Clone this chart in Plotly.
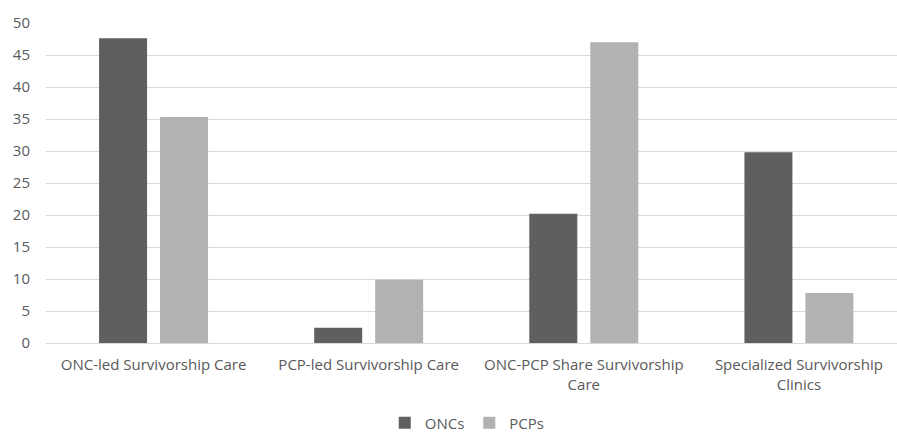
import plotly.graph_objects as go

categories = [
    "ONC-led Survivorship Care",
    "PCP-led Survivorship Care",
    "ONC-PCP Share Survivorship<br>Care",
    "Specialized Survivorship<br>Clinics",
]
oncs = [47.6, 2.4, 20.2, 29.8]
pcps = [35.3, 9.9, 47.0, 7.8]
y_ticks = list(range(0, 51, 5))

FONT = "Open Sans"
TEXT = "#595959"

fig = go.Figure()
fig.add_trace(go.Bar(name="ONCs", x=categories, y=oncs,
                     marker=dict(color="#5f5f5f", line=dict(width=0))))
fig.add_trace(go.Bar(name="PCPs", x=categories, y=pcps,
                     marker=dict(color="#b2b2b2", line=dict(width=0))))

fig.update_layout(
    width=897, height=434,
    margin=dict(l=46, r=0, t=23, b=91, autoexpand=False),
    paper_bgcolor="white", plot_bgcolor="white",
    barmode="group", bargap=0.433, bargroupgap=0.213,
    font=dict(family=FONT, size=15, color=TEXT),
    legend=dict(orientation="h", x=0.495, xanchor="center",
                y=-0.25, yanchor="middle",
                font=dict(family=FONT, size=15, color=TEXT),
                itemwidth=30, traceorder="normal"),
    xaxis=dict(range=[-0.5, 3.456], showgrid=False, showline=False,
               ticks="", ticklabelstandoff=11, automargin=False,
               tickfont=dict(family=FONT, size=15, color=TEXT)),
    yaxis=dict(range=[0, 50], tickvals=y_ticks, showgrid=True,
               gridcolor="#d9d9d9", gridwidth=1, zeroline=True,
               zerolinecolor="#d9d9d9", zerolinewidth=1, showline=False,
               ticks="", ticklabelstandoff=15, automargin=False,
               tickfont=dict(family=FONT, size=15, color=TEXT)),
)

fig.write_html("out.html")
